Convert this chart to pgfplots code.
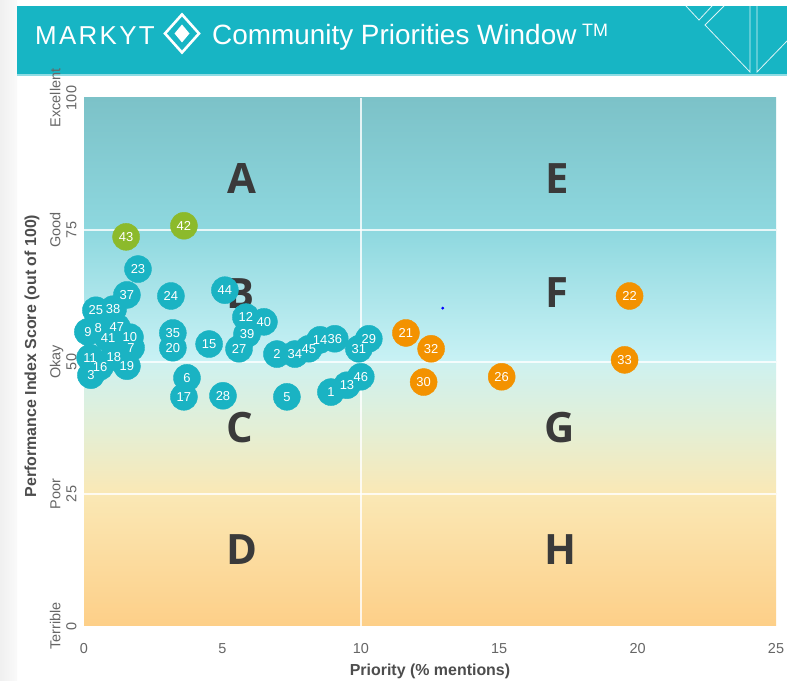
\documentclass[border=0pt]{standalone}
\usepackage{pgfplots}
\pgfplotsset{compat=1.18}
\usepackage{fontspec}
\setmainfont{Liberation Sans}
\newfontfamily\quadfont{Open Sans}
\newfontfamily\logofont[LetterSpace=9]{Liberation Sans}

\definecolor{hdr}{HTML}{17B5C4}
\definecolor{hdrline}{HTML}{8FDCE3}
\definecolor{bub}{HTML}{1AB3C3}
\definecolor{org}{HTML}{F39200}
\definecolor{grn}{HTML}{8CBA2B}
\definecolor{lett}{HTML}{3A3A3A}
\definecolor{tickc}{HTML}{666666}
\definecolor{labc}{HTML}{4D4D4D}
\definecolor{bgA}{HTML}{FDCF88}
\definecolor{bgB}{HTML}{FAE8B5}
\definecolor{bgC}{HTML}{E3EFD6}
\definecolor{bgD}{HTML}{CEF1F0}
\definecolor{bgE}{HTML}{C9F2F5}
\definecolor{bgF}{HTML}{8ED8DF}
\definecolor{bgG}{HTML}{7CC2C8}

% bubbles: x = priority, y = score, lbl = item number
\pgfplotstableread{
x y lbl
8.92 44.3 1
6.97 51.5 2
0.25 47.5 3
7.33 43.4 5
3.72 47.0 6
1.70 52.7 7
0.51 56.4 8
0.14 55.7 9
1.66 54.7 10
0.22 50.8 11
5.85 58.5 12
9.50 45.6 13
8.53 54.2 14
4.52 53.4 15
0.58 49.1 16
3.61 43.4 17
1.08 50.9 18
1.55 49.2 19
3.21 52.7 20
1.95 67.6 23
3.14 62.5 24
0.43 59.8 25
5.60 52.5 27
5.02 43.6 28
10.29 54.4 29
9.93 52.5 31
7.62 51.5 34
3.21 55.5 35
9.06 54.4 36
1.55 62.7 37
1.05 60.0 38
5.89 55.3 39
6.50 57.6 40
0.87 54.5 41
5.09 63.6 44
8.12 52.5 45
10.00 47.2 46
1.19 56.6 47
}\tealdata

\pgfplotstableread{
x y lbl
11.63 55.5 21
19.71 62.5 22
15.09 47.2 26
12.27 46.2 30
12.54 52.5 32
19.53 50.4 33
}\orangedata

\pgfplotstableread{
x y lbl
3.61 75.8 42
1.52 73.7 43
}\greendata

\pgfplotsset{
  bubble/.style={
    only marks, mark=*, mark size=13.5bp, color=#1,
    mark options={draw=none, fill=#1}
  },
  bubblelabel/.style={
    only marks, mark=*, mark size=0.01bp, mark options={draw=none, fill=none},
    nodes near coords, point meta=explicit symbolic,
    nodes near coords style={anchor=center, text=white, inner sep=0pt,
      font=\fontsize{13}{13}\selectfont}
  }
}

\begin{document}
\begin{tikzpicture}[x=1bp,y=1bp]
\useasboundingbox (0,0) rectangle (787,681);
\fill[white] (0,0) rectangle (787,681);
\shade[left color=black!6, right color=black!2] (0,0) rectangle (17,681);

% header
\fill[hdr] (17,607) rectangle (787,675);
\draw[hdrline, line width=1.5bp] (17,606) -- (787,606);
\node[anchor=base west, text=white, inner sep=0pt, font=\logofont\fontsize{26}{26}\selectfont] at (35,636) {MARKYT};
\draw[white, line width=2.6bp] (182,666.5) -- (199,647.5) -- (182,628.5) -- (165,647.5) -- cycle;
\fill[white] (182,656.5) -- (189.5,647.5) -- (182,638.5) -- (174.5,647.5) -- cycle;
\node[anchor=base west, text=white, inner sep=0pt, font=\fontsize{28}{28}\selectfont] at (212,636) {Community Priorities Window};
\node[anchor=base west, text=white, inner sep=0pt, font=\fontsize{18}{18}\selectfont] at (582,644) {TM};
\begin{scope}[white, line width=0.8bp, opacity=0.85]
\draw (686,675) -- (699,661) -- (712,675);
\draw (724,675) -- (705,656) -- (750,609) -- (750,675);
\draw (757,675) -- (757,609) -- (787,640);
\end{scope}

\begin{axis}[
  at={(84bp,55bp)}, anchor=south west,
  scale only axis, width=692bp, height=528bp,
  xmin=0, xmax=25, ymin=0, ymax=100,
  axis line style={draw=none},
  tick style={draw=none},
  xtick={0,5,10,15,20,25},
  xticklabels={0,5,10,15,20,25},
  ytick={0,25,50,75,100},
  yticklabels={{Terrible\\0},{Poor\\25},{Okay\\50},{Good\\75},{Excellent\\100}},
  xticklabel style={anchor=north, yshift=-14bp, text=tickc, font=\fontsize{14.5}{16}\selectfont},
  yticklabel style={xshift=-4bp, rotate=90, anchor=south, align=center, text=tickc, font=\fontsize{14.5}{16}\selectfont},
  xlabel={Priority (\% mentions)},
  ylabel={Performance Index Score (out of 100)},
  every axis x label/.style={at={(axis description cs:0.5,0)}, yshift=-45bp, anchor=center,
    font=\bfseries\fontsize{16}{16}\selectfont, text=labc},
  every axis y label/.style={at={(axis description cs:0,0.5)}, xshift=-52bp, yshift=6bp, rotate=90, anchor=center,
    font=\bfseries\fontsize{16}{16}\selectfont, text=labc},
]
% background bands
\path[bottom color=bgA, top color=bgB] (axis cs:0,0) rectangle (axis cs:25,25.05);
\path[bottom color=bgB, top color=bgD, middle color=bgC] (axis cs:0,25) rectangle (axis cs:25,50.05);
\path[bottom color=bgE, top color=bgF] (axis cs:0,50) rectangle (axis cs:25,75.05);
\path[bottom color=bgF, top color=bgG] (axis cs:0,75) rectangle (axis cs:25,100);
% grid lines
\begin{scope}[white, line width=1.5bp, opacity=0.8]
\draw (axis cs:0,25) -- (axis cs:25,25);
\draw (axis cs:0,50) -- (axis cs:25,50);
\draw (axis cs:0,75) -- (axis cs:25,75);
\draw (axis cs:10,0) -- (axis cs:10,100);
\end{scope}

\addplot[bubble=bub] table[x=x, y=y] {\tealdata};
\addplot[bubble=org] table[x=x, y=y] {\orangedata};
\addplot[bubble=grn] table[x=x, y=y] {\greendata};
\addplot[only marks, mark=*, mark size=1.3bp, color=blue] coordinates {(12.96,60.2)};

% quadrant letters
\begin{scope}[font=\quadfont\bfseries\fontsize{42}{42}\selectfont, text=lett]
\node at (axis cs:5.7,84.8) {A};
\node at (axis cs:17.1,84.8) {E};
\node at (axis cs:5.67,62.9) {B};
\node at (axis cs:17.1,63.1) {F};
\node at (axis cs:5.64,37.5) {C};
\node at (axis cs:17.2,37.5) {G};
\node at (axis cs:5.7,14.4) {D};
\node at (axis cs:17.2,14.4) {H};
\end{scope}

\addplot[bubblelabel] table[x=x, y=y, meta=lbl] {\tealdata};
\addplot[bubblelabel] table[x=x, y=y, meta=lbl] {\orangedata};
\addplot[bubblelabel] table[x=x, y=y, meta=lbl] {\greendata};
\end{axis}
\end{tikzpicture}
\end{document}
